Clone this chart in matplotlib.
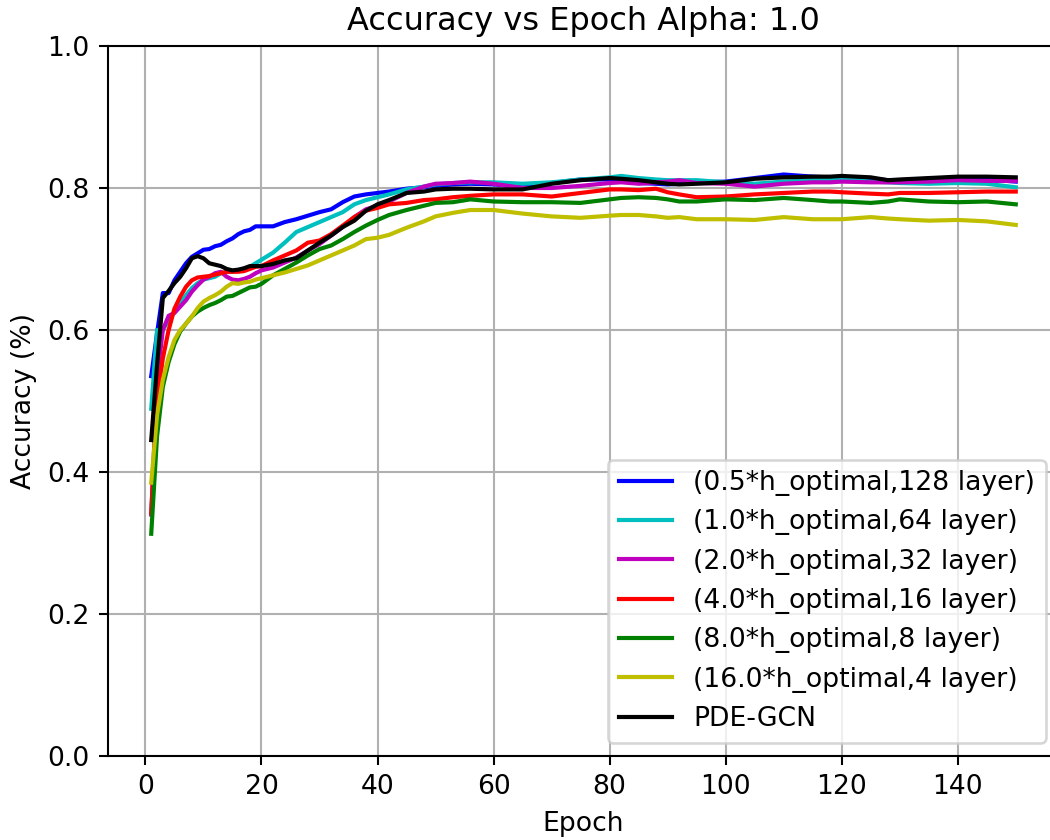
import matplotlib
matplotlib.use('Agg')
import matplotlib.pyplot as plt

epochs = [1, 2, 3, 4, 5, 6, 7, 8, 9, 10, 11, 12, 13, 14, 15, 16, 17, 18, 19, 20,
          22, 24, 26, 28, 30, 32, 34, 36, 38, 40,
          42, 45, 48, 50, 53, 56, 60,
          65, 70, 75, 80, 82, 85, 88, 90, 92, 95,
          100, 105, 110, 115, 118, 120, 125, 128, 130, 135, 140, 145, 150]

acc_05 = [0.535, 0.595, 0.652, 0.652, 0.670, 0.682, 0.694, 0.703, 0.708, 0.713,
          0.714, 0.718, 0.720, 0.725, 0.729, 0.735, 0.739, 0.741, 0.746, 0.746,
          0.746, 0.752, 0.756, 0.761, 0.766, 0.770, 0.780, 0.788, 0.791, 0.793,
          0.795, 0.799, 0.801, 0.803, 0.805, 0.806, 0.805,
          0.802, 0.807, 0.812, 0.812, 0.811, 0.807, 0.806, 0.805, 0.806, 0.808,
          0.809, 0.814, 0.819, 0.816, 0.815, 0.815, 0.813, 0.811, 0.811, 0.813, 0.814, 0.812, 0.809]

acc_1 = [0.489, 0.600, 0.600, 0.614, 0.626, 0.638, 0.649, 0.659, 0.666, 0.671,
         0.673, 0.675, 0.680, 0.682, 0.682, 0.684, 0.686, 0.689, 0.694, 0.699,
         0.709, 0.723, 0.738, 0.745, 0.752, 0.759, 0.766, 0.777, 0.783, 0.787,
         0.791, 0.798, 0.802, 0.805, 0.807, 0.808, 0.808,
         0.806, 0.808, 0.812, 0.815, 0.817, 0.814, 0.812, 0.811, 0.811, 0.811,
         0.808, 0.806, 0.809, 0.811, 0.812, 0.813, 0.809, 0.808, 0.807, 0.806, 0.807, 0.806, 0.801]

acc_2 = [0.340, 0.530, 0.600, 0.620, 0.624, 0.633, 0.642, 0.654, 0.663, 0.671,
         0.675, 0.680, 0.682, 0.675, 0.671, 0.670, 0.672, 0.675, 0.680, 0.684,
         0.688, 0.695, 0.702, 0.712, 0.721, 0.733, 0.745, 0.759, 0.770, 0.775,
         0.781, 0.793, 0.802, 0.806, 0.807, 0.809, 0.806,
         0.800, 0.800, 0.803, 0.807, 0.808, 0.806, 0.808, 0.809, 0.811, 0.807,
         0.806, 0.802, 0.806, 0.808, 0.808, 0.809, 0.808, 0.808, 0.808, 0.809, 0.811, 0.810, 0.810]

acc_4 = [0.342, 0.500, 0.560, 0.600, 0.630, 0.647, 0.661, 0.670, 0.674, 0.675,
         0.676, 0.678, 0.680, 0.682, 0.682, 0.682, 0.683, 0.686, 0.689, 0.690,
         0.698, 0.705, 0.712, 0.723, 0.726, 0.735, 0.747, 0.759, 0.768, 0.772,
         0.777, 0.779, 0.783, 0.784, 0.787, 0.789, 0.791,
         0.791, 0.788, 0.793, 0.798, 0.798, 0.797, 0.799, 0.794, 0.791, 0.787,
         0.788, 0.791, 0.793, 0.795, 0.795, 0.794, 0.792, 0.791, 0.793, 0.793, 0.794, 0.795, 0.795]

acc_8 = [0.313, 0.450, 0.520, 0.555, 0.580, 0.598, 0.609, 0.619, 0.626, 0.631,
         0.635, 0.638, 0.642, 0.647, 0.648, 0.652, 0.656, 0.660, 0.661, 0.665,
         0.677, 0.686, 0.695, 0.705, 0.714, 0.719, 0.728, 0.738, 0.747, 0.755,
         0.762, 0.769, 0.775, 0.779, 0.780, 0.784, 0.781,
         0.780, 0.780, 0.779, 0.784, 0.786, 0.787, 0.786, 0.784, 0.781, 0.781,
         0.784, 0.783, 0.786, 0.783, 0.781, 0.781, 0.779, 0.781, 0.784, 0.781, 0.780, 0.781, 0.777]

acc_16 = [0.385, 0.480, 0.530, 0.562, 0.586, 0.600, 0.609, 0.619, 0.631, 0.640,
          0.645, 0.649, 0.654, 0.661, 0.666, 0.665, 0.667, 0.668, 0.671, 0.673,
          0.677, 0.681, 0.686, 0.691, 0.698, 0.705, 0.712, 0.719, 0.728, 0.730,
          0.734, 0.744, 0.753, 0.760, 0.765, 0.769, 0.769,
          0.764, 0.760, 0.758, 0.761, 0.762, 0.762, 0.760, 0.758, 0.759, 0.756,
          0.756, 0.755, 0.759, 0.756, 0.756, 0.756, 0.759, 0.757, 0.756, 0.754, 0.755, 0.753, 0.748]

acc_pde = [0.445, 0.550, 0.645, 0.655, 0.666, 0.675, 0.687, 0.701, 0.704, 0.701,
           0.694, 0.692, 0.690, 0.686, 0.684, 0.685, 0.687, 0.690, 0.690, 0.690,
           0.693, 0.698, 0.701, 0.712, 0.723, 0.733, 0.745, 0.754, 0.768, 0.777,
           0.783, 0.793, 0.795, 0.798, 0.799, 0.799, 0.798,
           0.798, 0.806, 0.811, 0.814, 0.813, 0.811, 0.808, 0.806, 0.805, 0.806,
           0.808, 0.813, 0.815, 0.816, 0.816, 0.817, 0.815, 0.811, 0.812, 0.814, 0.816, 0.816, 0.815]

series = [
    (acc_05, 'b', '(0.5*h_optimal,128 layer)'),
    (acc_1, 'c', '(1.0*h_optimal,64 layer)'),
    (acc_2, 'm', '(2.0*h_optimal,32 layer)'),
    (acc_4, 'r', '(4.0*h_optimal,16 layer)'),
    (acc_8, 'g', '(8.0*h_optimal,8 layer)'),
    (acc_16, 'y', '(16.0*h_optimal,4 layer)'),
    (acc_pde, 'k', 'PDE-GCN'),
]

plt.rcParams['font.size'] = 10.25
plt.rcParams['lines.linewidth'] = 1.6

dpi = 187
fig = plt.figure(figsize=(1050 / dpi, 840 / dpi), dpi=dpi)
# axes runs slightly past the right edge, like the cropped original
ax = fig.add_axes([108 / 1050, 84 / 840, 951 / 1050, 710 / 840])

for vals, col, lab in series:
    ax.plot(epochs, vals, color=col, label=lab)

ax.set_xlim(-6.45, 157.45)
ax.set_ylim(0.0, 1.0)
ax.set_xticks([0, 20, 40, 60, 80, 100, 120, 140])
ax.set_yticks([0.0, 0.2, 0.4, 0.6, 0.8, 1.0])
ax.grid(True)
ax.set_xlabel('Epoch')
ax.set_ylabel('Accuracy (%)')
ax.set_title('Accuracy vs Epoch Alpha: 1.0', fontsize=12.3)
ax.legend(loc='lower right', borderaxespad=0.5)

fig.savefig('out.png', dpi=dpi)
